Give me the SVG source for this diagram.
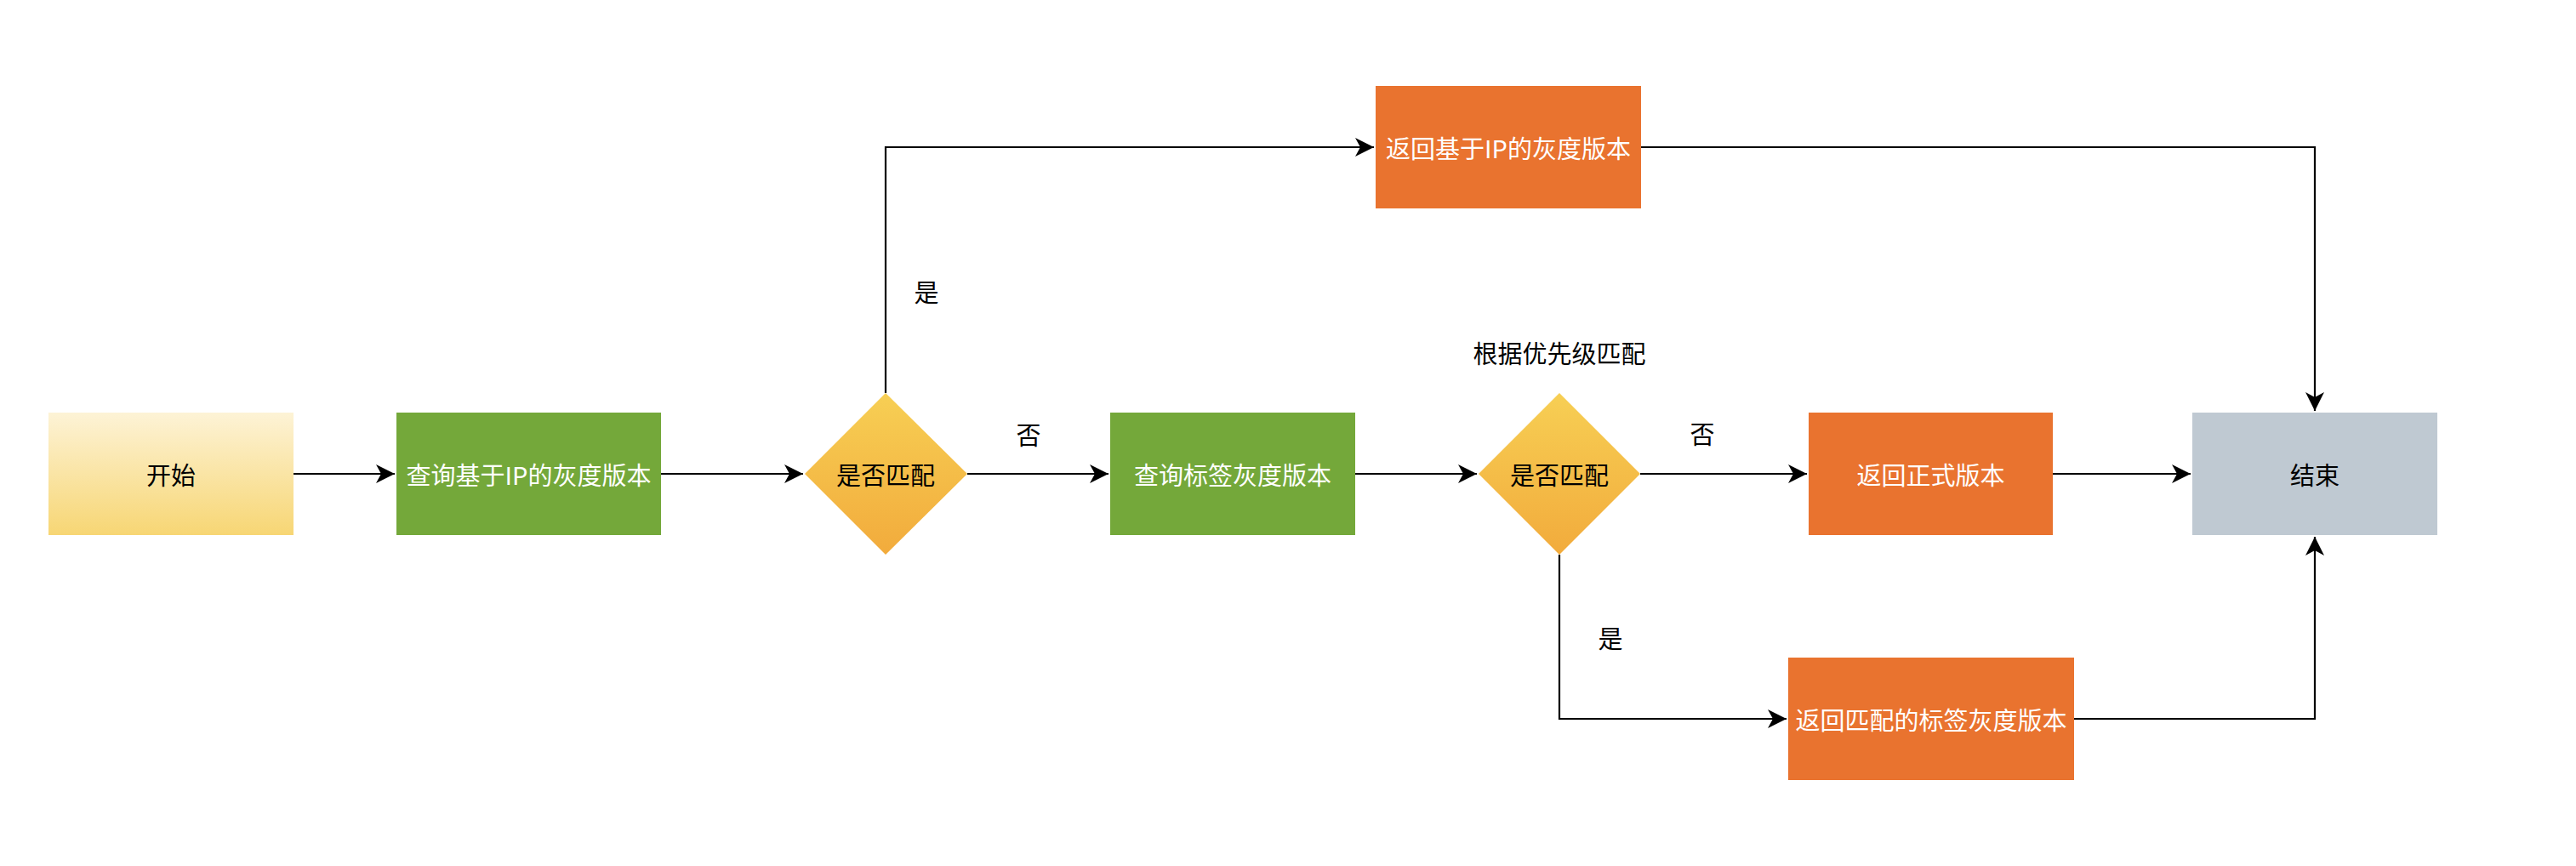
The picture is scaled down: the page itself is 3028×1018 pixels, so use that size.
<svg xmlns="http://www.w3.org/2000/svg" width="3028" height="1018" viewBox="0 0 3028 1018">
<style>
.t{font-family:"Noto Sans CJK SC","Noto Sans",sans-serif;font-size:29px;text-anchor:middle;dominant-baseline:central}
.w{fill:#ffffff}
.k{fill:#000000}
.green{fill:#74a83a}
.orange{fill:#e9732f}
.gray{fill:#bfc9d2}
.edge{fill:none;stroke:#000000;stroke-width:2.2;marker-end:url(#arr)}
</style>
<defs>
<linearGradient id="gStart" x1="0" y1="0" x2="0" y2="1">
<stop offset="0" stop-color="#fdf3d6"/>
<stop offset="1" stop-color="#f7d674"/>
</linearGradient>
<linearGradient id="gDia" x1="0" y1="0" x2="0" y2="1">
<stop offset="0" stop-color="#f7cf54"/>
<stop offset="1" stop-color="#f2ab3c"/>
</linearGradient>
<marker id="arr" markerUnits="userSpaceOnUse" markerWidth="24" markerHeight="24" refX="22" refY="11" orient="auto">
<path d="M0,0 L22,11 L0,22 L6,11 Z" fill="#000"/>
</marker>
</defs>
<rect width="3028" height="1018" fill="#ffffff"/>
<g id="connectors">
<path class="edge" d="M345,557 H464"/>
<path class="edge" d="M777,557 H944"/>
<path class="edge" d="M1137,557 H1303"/>
<path class="edge" d="M1041,462 V173 H1615"/>
<path class="edge" d="M1929,173 H2721 V483"/>
<path class="edge" d="M1593,557 H1736"/>
<path class="edge" d="M1928,557 H2124"/>
<path class="edge" d="M1833,652 V845 H2100"/>
<path class="edge" d="M2413,557 H2575"/>
<path class="edge" d="M2438,845 H2721 V631"/>
<text class="t k" x="1209" y="510">否</text>
<text class="t k" x="1089" y="342">是</text>
<text class="t k" x="2001" y="509">否</text>
<text class="t k" x="1893" y="749">是</text>
<text class="t k" x="1833" y="414">根据优先级匹配</text>
</g>
<g id="start">
<rect x="57" y="485" width="288" height="144" fill="url(#gStart)"/>
<text class="t k" x="201" y="557">开始</text>
</g>
<g id="queryIP">
<rect class="green" x="466" y="485" width="311" height="144"/>
<text class="t w" x="621.5" y="557">查询基于IP的灰度版本</text>
</g>
<g id="match1">
<polygon points="1041,462 1137,557 1041,652 946,557" fill="url(#gDia)"/>
<text class="t k" x="1041" y="557">是否匹配</text>
</g>
<g id="returnIP">
<rect class="orange" x="1617" y="101" width="312" height="144"/>
<text class="t w" x="1773" y="173">返回基于IP的灰度版本</text>
</g>
<g id="queryTag">
<rect class="green" x="1305" y="485" width="288" height="144"/>
<text class="t w" x="1449" y="557">查询标签灰度版本</text>
</g>
<g id="match2">
<polygon points="1833,462 1928,557 1833,652 1738,557" fill="url(#gDia)"/>
<text class="t k" x="1833" y="557">是否匹配</text>
</g>
<g id="returnRelease">
<rect class="orange" x="2126" y="485" width="287" height="144"/>
<text class="t w" x="2269.5" y="557">返回正式版本</text>
</g>
<g id="returnTag">
<rect class="orange" x="2102" y="773" width="336" height="144"/>
<text class="t w" x="2270" y="845">返回匹配的标签灰度版本</text>
</g>
<g id="end">
<rect class="gray" x="2577" y="485" width="288" height="144"/>
<text class="t k" x="2721" y="557">结束</text>
</g>
</svg>
